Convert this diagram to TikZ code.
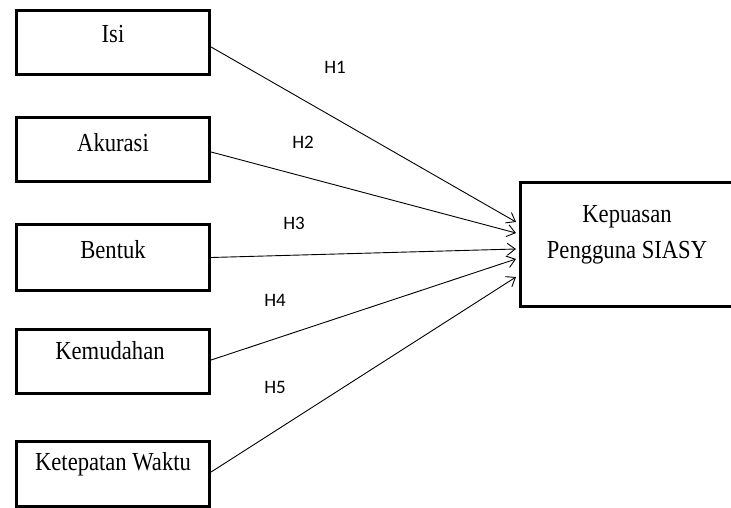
\documentclass[tikz,border=0pt]{standalone}
\usepackage{fontspec}
\setmainfont[FakeStretch=0.87]{Liberation Serif}
\newfontfamily\hfont{Carlito}
\usetikzlibrary{arrows.meta}
\begin{document}
\begin{tikzpicture}[x=1pt,y=-1pt,
  varbox/.style={draw=black,line width=3.2pt,minimum width=193pt,minimum height=64pt,inner sep=0pt,fill=white},
  boxtext/.style={anchor=base,inner sep=0pt,font=\fontsize{26}{30}\selectfont},
  hyp/.style={inner sep=0pt,font=\hfont\fontsize{19}{22}\selectfont},
  link/.style={line width=0.9pt,-{Straight Barb[length=8pt,width=12pt,line width=0.9pt]}}]
\useasboundingbox (0,0) rectangle (731,508);
\clip (0,0) rectangle (731,508);
% boxes
\node[varbox] (isi) at (113,42.5) {};
\node[varbox] (akurasi) at (113,149.5) {};
\node[varbox,minimum height=66pt] (bentuk) at (113,257.5) {};
\node[varbox] (kemudahan) at (113,361.5) {};
\node[varbox,minimum height=65pt] (ketepatan) at (113,474) {};
\node[draw=black,line width=3.2pt,minimum width=224.5pt,minimum height=124pt,inner sep=0pt] (kepuasan) at (632.75,244.5) {};
% texts
\node[boxtext] (isiT) at (113,43) {Isi};
\node[boxtext] (akurasiT) at (113,152) {Akurasi};
\node[boxtext] (bentukT) at (113,258) {Bentuk};
\node[boxtext] (kemudahanT) at (110,359) {Kemudahan};
\node[boxtext] (ketepatanT) at (113,470) {Ketepatan Waktu};
\node[boxtext] (kepT1) at (627,222) {Kepuasan};
\node[boxtext] (kepT2) at (627,258) {Pengguna SIASY};
% arrow tips
\coordinate (t1) at (516,222);
\coordinate (t2) at (516,233);
\coordinate (t3) at (516,249);
\coordinate (t4) at (516,259);
\coordinate (t5) at (516,277);
\draw[link] ([yshift=-4.5pt]isi.east) -- (t1);
\draw[link] ([yshift=-2.5pt]akurasi.east) -- (t2);
\draw[link] (bentuk.east) -- (t3);
\draw[link] ([yshift=1.5pt]kemudahan.east) -- (t4);
\draw[link] ([yshift=2pt]ketepatan.east) -- (t5);
% hypothesis labels
\node[hyp] (h1) at (335,67) {H1};
\node[hyp] (h2) at (303,142) {H2};
\node[hyp] (h3) at (294,223) {H3};
\node[hyp] (h4) at (275,300) {H4};
\node[hyp] (h5) at (275,387) {H5};
\end{tikzpicture}
\end{document}
